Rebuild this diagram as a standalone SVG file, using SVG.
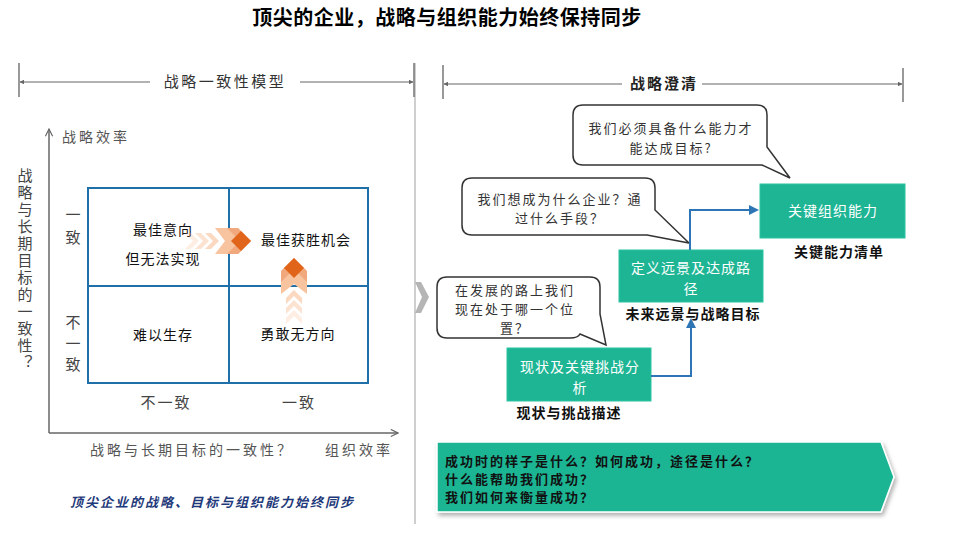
<svg xmlns="http://www.w3.org/2000/svg" width="979" height="536" viewBox="0 0 979 536">
<style>
text{font-family:"Noto Sans CJK SC","Liberation Sans",sans-serif;}
.title{font-size:20px;font-weight:bold;fill:#000;letter-spacing:0.5px;}
.hdr{font-size:15px;fill:#333;letter-spacing:2.5px;}
.hdrb{font-size:15px;font-weight:bold;fill:#222;letter-spacing:2px;}
.ax{font-size:14px;fill:#555;letter-spacing:3px;}
.q{font-size:14px;fill:#111;letter-spacing:1px;}
.vt{font-size:15px;fill:#444;letter-spacing:2px;}
.vert{font-size:15px;fill:#444;writing-mode:vertical-rl;text-orientation:upright;}
.bub{font-size:13px;fill:#333;letter-spacing:2px;}
.box{fill:#1db594;stroke:#2cc4a2;stroke-width:1;}
.bt{font-size:14px;fill:#fff;letter-spacing:1px;}
.lbl{font-size:14px;font-weight:bold;fill:#111;letter-spacing:1px;}
.bubble{fill:#fff;stroke:#333;stroke-width:1.5;}
.conn{fill:none;stroke:#2e75b6;stroke-width:2;}
.tick{stroke:#777;stroke-width:1.5;}
.hline{stroke:#666;stroke-width:1.2;}
.ban{font-size:13px;font-weight:bold;fill:#111;letter-spacing:2px;}
</style>
<defs>
<marker id="ah" viewBox="0 0 10 10" refX="9" refY="5" markerWidth="4" markerHeight="4" orient="auto-start-reverse"><path d="M0,0 L10,5 L0,10 z" fill="#666"/></marker>
<marker id="open" viewBox="0 0 10 10" refX="9" refY="5" markerWidth="9" markerHeight="9" markerUnits="userSpaceOnUse" orient="auto"><path d="M1,1 L9,5 L1,9" fill="none" stroke="#666" stroke-width="1.3"/></marker>
<marker id="blue" viewBox="0 0 10 10" refX="8" refY="5" markerWidth="5" markerHeight="5" orient="auto"><path d="M0,0 L10,5 L0,10 z" fill="#2e75b6"/></marker>
<g id="chev">
<polygon points="-66,-8 -60,-8 -52,0 -60,8 -66,8 -58,0" fill="#f7b88c" opacity="0.25"/>
<polygon points="-56,-8 -50,-8 -42,0 -50,8 -56,8 -48,0" fill="#f7b88c" opacity="0.4"/>
<polygon points="-46,-8 -40,-8 -32,0 -40,8 -46,8 -38,0" fill="#f7b88c" opacity="0.55"/>
<polygon points="-36,-13 -13,-13 0,0 -13,13 -36,13 -26,0" fill="#f8c4a0"/>
<polygon points="-24,-13 -13,-13 0,0 -13,13 -24,13 -11,0" fill="#eea173" opacity="0.8"/>
<polygon points="-10,-10 0,0 -10,10 -20,0" fill="#e0641a"/>
</g>
<filter id="sh" x="-5%" y="-10%" width="110%" height="130%"><feDropShadow dx="2" dy="3" stdDeviation="2" flood-color="#000" flood-opacity="0.3"/></filter>
</defs>
<rect width="979" height="536" fill="#fff"/>
<text class="title" x="447" y="25" text-anchor="middle">顶尖的企业，战略与组织能力始终保持同步</text>

<g id="separator">
<line x1="415" y1="63" x2="415" y2="524" stroke="#cfcfcf" stroke-width="2"/>
<polygon points="415,282 421,282 429,297 421,313 415,313 422,297" fill="#b5b5b5"/>
</g>

<g id="left-header">
<line class="tick" x1="19" y1="63" x2="19" y2="97"/>
<line class="tick" x1="414" y1="63" x2="414" y2="97"/>
<line class="hline" x1="150" y1="82" x2="20" y2="82" marker-end="url(#ah)"/>
<line class="hline" x1="300" y1="82" x2="413" y2="82" marker-end="url(#ah)"/>
<text class="hdr" x="225" y="87" text-anchor="middle">战略一致性模型</text>
</g>

<g id="right-header">
<line class="tick" x1="443" y1="65" x2="443" y2="99"/>
<line class="tick" x1="903" y1="68" x2="903" y2="102"/>
<line class="hline" x1="622" y1="84" x2="444" y2="84" marker-end="url(#ah)"/>
<line class="hline" x1="702" y1="84" x2="902" y2="84" marker-end="url(#ah)"/>
<text class="hdrb" x="664" y="89" text-anchor="middle">战略澄清</text>
</g>

<g id="axes">
<line x1="49" y1="433" x2="49" y2="129" stroke="#666" stroke-width="1.5" marker-end="url(#open)"/>
<line x1="49" y1="433" x2="398" y2="433" stroke="#666" stroke-width="1.5" marker-end="url(#open)"/>
<text class="ax" x="62" y="142">战略效率</text>
<text class="ax" x="90" y="455">战略与长期目标的一致性？</text>
<text class="ax" x="325" y="455">组织效率</text>
<text class="vert" x="25" y="168" letter-spacing="2">战略与长期目标的一致性？</text>
<text class="vert" x="73" y="207" letter-spacing="8">一致</text>
<text class="vert" x="73" y="315" letter-spacing="6">不一致</text>
<text class="vt" x="166" y="408" text-anchor="middle">不一致</text>
<text class="vt" x="299" y="408" text-anchor="middle">一致</text>
</g>

<g id="matrix">
<rect x="88" y="188" width="280" height="195" fill="none" stroke="#1f6fa8" stroke-width="2"/>
<line x1="229" y1="188" x2="229" y2="383" stroke="#1f6fa8" stroke-width="2"/>
<line x1="88" y1="286" x2="368" y2="286" stroke="#1f6fa8" stroke-width="2"/>
</g>
<g id="q-best-intent"><text class="q" x="163" y="235" text-anchor="middle">最佳意向</text><text class="q" x="163" y="264" text-anchor="middle">但无法实现</text></g>
<g id="q-best-win"><text class="q" x="306" y="245" text-anchor="middle">最佳获胜机会</text></g>
<g id="q-hard"><text class="q" x="163" y="340" text-anchor="middle">难以生存</text></g>
<g id="q-brave"><text class="q" x="298" y="339" text-anchor="middle">勇敢无方向</text></g>
<g id="arrows-matrix">
<use href="#chev" transform="translate(251,241)"/>
<use href="#chev" transform="translate(294,258) rotate(-90)"/>
</g>
<text x="70" y="507" font-size="13" font-style="italic" font-weight="bold" fill="#1f3a7a" letter-spacing="2">顶尖企业的战略、目标与组织能力始终同步</text>

<g id="bubble1">
<path class="bubble" d="M583,105 H757 Q767,105 767,115 V147 L790,178 L762,165 H583 Q573,165 573,155 V115 Q573,105 583,105 Z"/>
<text class="bub" x="671" y="133" text-anchor="middle">我们必须具备什么能力才</text>
<text class="bub" x="671" y="153" text-anchor="middle">能达成目标?</text>
</g>
<g id="bubble2">
<path class="bubble" d="M472,178 H645 Q655,178 655,188 V210 L689,243 L647,235 H472 Q462,235 462,225 V188 Q462,178 472,178 Z"/>
<text class="bub" x="560" y="204" text-anchor="middle">我们想成为什么企业？通</text>
<text class="bub" x="560" y="223" text-anchor="middle">过什么手段？</text>
</g>
<g id="bubble3">
<path class="bubble" d="M447,277 H590 Q600,277 600,287 V314 L606,345 L580,334 Q578,338 570,338 H447 Q437,338 437,328 V287 Q437,277 447,277 Z"/>
<text class="bub" x="515" y="295" text-anchor="middle">在发展的路上我们</text>
<text class="bub" x="515" y="314" text-anchor="middle">现在处于哪一个位</text>
<text class="bub" x="515" y="333" text-anchor="middle">置？</text>
</g>

<g id="box-key">
<rect class="box" x="760" y="184" width="145" height="54"/>
<text class="bt" x="833" y="216" text-anchor="middle">关键组织能力</text>
<text class="lbl" x="839" y="257" text-anchor="middle">关键能力清单</text>
</g>
<g id="box-vision">
<rect class="box" x="619" y="250" width="144" height="52"/>
<text class="bt" x="691" y="273" text-anchor="middle">定义远景及达成路</text>
<text class="bt" x="691" y="294" text-anchor="middle">径</text>
<text class="lbl" x="693" y="319" text-anchor="middle">未来远景与战略目标</text>
</g>
<g id="box-status">
<rect class="box" x="507" y="348" width="144" height="53"/>
<text class="bt" x="580" y="372" text-anchor="middle">现状及关键挑战分</text>
<text class="bt" x="580" y="393" text-anchor="middle">析</text>
<text class="lbl" x="569" y="418" text-anchor="middle">现状与挑战描述</text>
</g>

<g id="connectors">
<path class="conn" d="M651,376 H691 V320" marker-end="url(#blue)"/>
<path class="conn" d="M690,250 V210 H757" marker-end="url(#blue)"/>
</g>

<g id="banner">
<polygon points="437,442 881,442 894,477 881,512 437,512" fill="#1db594" stroke="#fff" stroke-width="1.5" filter="url(#sh)"/>
<text class="ban" x="445" y="466">成功时的样子是什么？如何成功，途径是什么？</text>
<text class="ban" x="445" y="484">什么能帮助我们成功？</text>
<text class="ban" x="445" y="502">我们如何来衡量成功？</text>
</g>
</svg>
